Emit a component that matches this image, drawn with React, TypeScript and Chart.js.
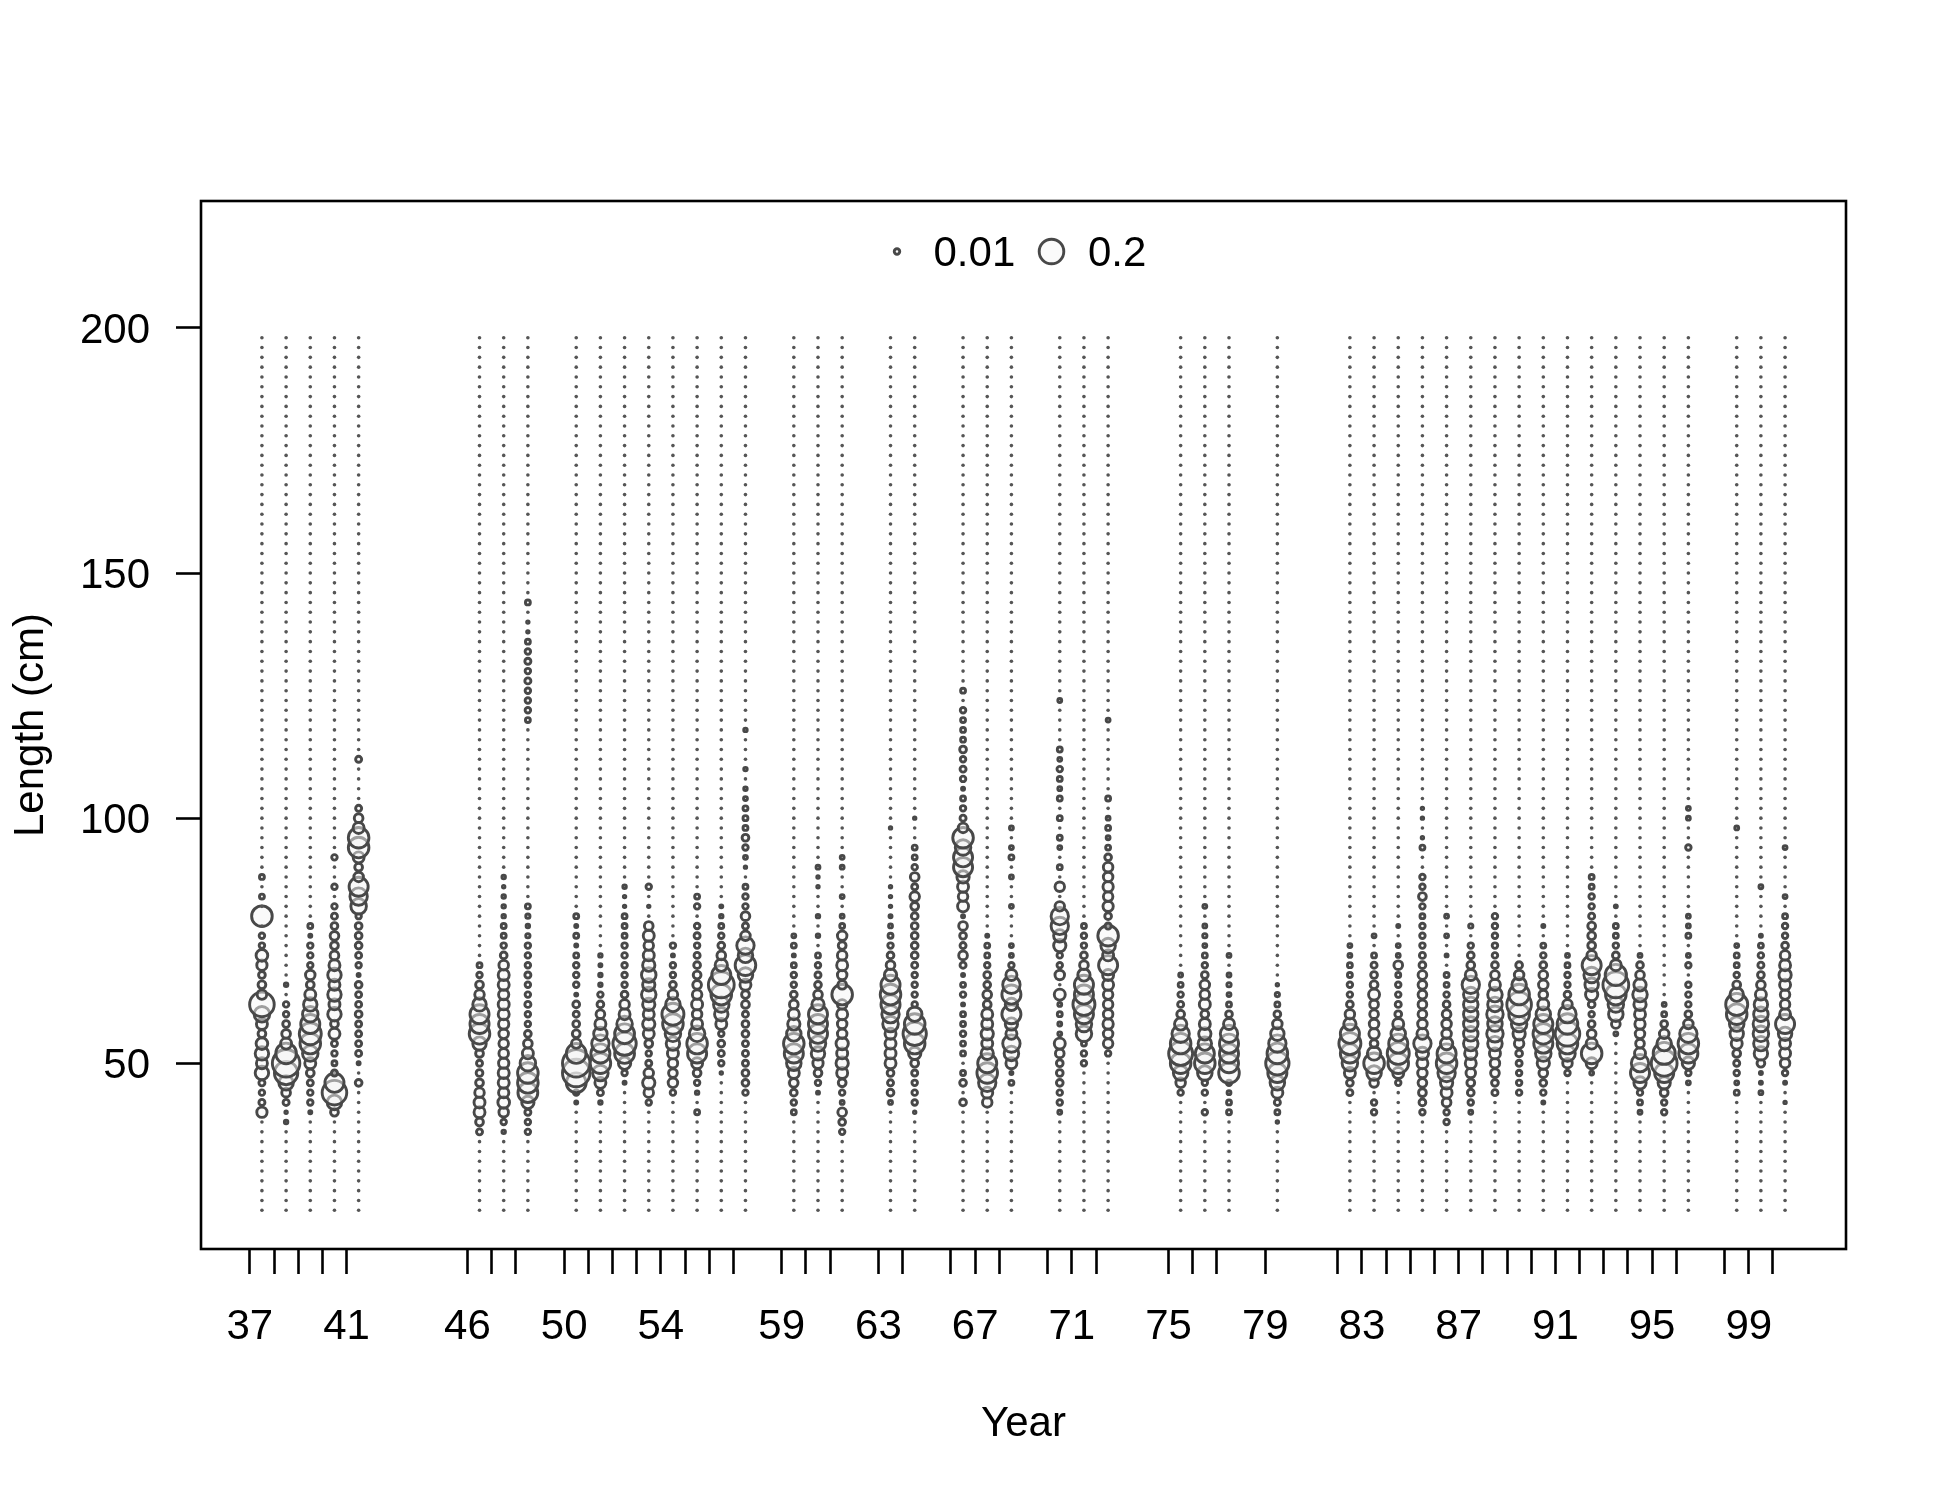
import { useEffect, useRef } from 'react';
import { Chart, registerables } from 'chart.js';

Chart.register(...registerables);

const FONT = '"Liberation Sans", Arial, Helvetica, sans-serif';

// Sample years (plotted at year + seasonOffset, ticks at the year itself)
const years = [37, 38, 39, 40, 41, 46, 47, 48, 50, 51, 52, 53, 54, 55, 56, 57, 59, 60, 61, 63, 64, 66, 67, 68, 70, 71, 72, 75, 76, 77, 79, 82, 83, 84, 85, 86, 87, 88, 89, 90, 91, 92, 93, 94, 95, 96, 98, 99, 100];
const seasonOffset = 0.5;
const labelYears = [37, 41, 46, 50, 54, 59, 63, 67, 71, 75, 79, 83, 87, 91, 95, 99];
const yTicks = [50, 100, 150, 200];

// Length bins (cm)
const lengthBins = [20, 22, 24, 26, 28, 30, 32, 34, 36, 38, 40, 42, 44, 46, 48, 50, 52, 54, 56, 58, 60, 62, 64, 66, 68, 70, 72, 74, 76, 78, 80, 82, 84, 86, 88, 90, 92, 94, 96, 98, 100, 102, 104, 106, 108, 110, 112, 114, 116, 118, 120, 122, 124, 126, 128, 130, 132, 134, 136, 138, 140, 142, 144, 146, 148, 150, 152, 154, 156, 158, 160, 162, 164, 166, 168, 170, 172, 174, 176, 178, 180, 182, 184, 186, 188, 190, 192, 194, 196, 198];

// Proportions at length, starting at compStart[i], step 2 cm
const compStart = [40, 38, 40, 40, 46, 36, 36, 36, 42, 42, 46, 42, 44, 40, 48, 44, 40, 44, 36, 42, 40, 42, 42, 46, 40, 50, 52, 44, 40, 40, 38, 44, 40, 46, 40, 38, 40, 44, 44, 42, 48, 48, 56, 40, 40, 46, 44, 44, 42];

const c37 = [0.035, 0.012, 0.01, 0.012, 0.06, 0.04, 0.06, 0.045, 0.02, 0.04, 0.08, 0.2, 0.03, 0.02, 0.015, 0.035, 0.045, 0.01, 0.01, 0, 0.14, 0, 0.008, 0, 0.008];
const c38 = [0.004, 0.002, 0.012, 0.025, 0.07, 0.18, 0.25, 0.14, 0.04, 0.025, 0.015, 0.01, 0.01, 0, 0.004];
const c39 = [0.003, 0.01, 0.01, 0.012, 0.02, 0.04, 0.08, 0.14, 0.16, 0.12, 0.08, 0.06, 0.04, 0.02, 0.03, 0.01, 0.01, 0.01, 0.003, 0.008];
const c40 = [0.02, 0.07, 0.2, 0.12, 0.012, 0.008, 0.01, 0.012, 0.04, 0.02, 0.06, 0.04, 0.06, 0.04, 0.06, 0.04, 0.025, 0.02, 0.025, 0.015, 0.012, 0.01, 0, 0.01, 0, 0, 0.01];
const c41 = [0.015, 0, 0.003, 0.012, 0.012, 0.012, 0.012, 0.015, 0.012, 0.012, 0.015, 0.003, 0.01, 0.012, 0.015, 0.015, 0.015, 0.01, 0.08, 0.1, 0.12, 0.03, 0.02, 0.04, 0.14, 0.14, 0.04, 0.025, 0.012, 0, 0, 0, 0, 0.012];
const c46 = [0.012, 0.02, 0.04, 0.04, 0.03, 0.02, 0.015, 0.012, 0.02, 0.06, 0.14, 0.12, 0.12, 0.06, 0.03, 0.02, 0.01, 0.008];
const c47 = [0.004, 0.01, 0.03, 0.045, 0.035, 0.04, 0.04, 0.035, 0.03, 0.03, 0.03, 0.035, 0.04, 0.04, 0.035, 0.04, 0.04, 0.03, 0.015, 0.01, 0.008, 0.008, 0.004, 0.004, 0.004, 0.002, 0.004];
const c48 = [0.01, 0.01, 0.012, 0.05, 0.13, 0.14, 0.14, 0.08, 0.04, 0.025, 0.015, 0.01, 0.01, 0.012, 0.01, 0.01, 0.012, 0.01, 0.01, 0.01, 0.006, 0.004, 0.006, 0.008, 0, 0, 0, 0, 0, 0, 0, 0, 0, 0, 0, 0, 0, 0, 0, 0, 0, 0, 0.008, 0.01, 0.01, 0.01, 0.012, 0.01, 0.012, 0.01, 0.008, 0.002, 0.002, 0, 0.008];
const c50 = [0.003, 0.01, 0.13, 0.25, 0.25, 0.13, 0.03, 0.02, 0.015, 0.012, 0.015, 0.003, 0.01, 0.01, 0.01, 0.008, 0.003, 0.008, 0.003, 0.008];
const c51 = [0.004, 0.012, 0.04, 0.08, 0.14, 0.12, 0.1, 0.06, 0.04, 0.025, 0.015, 0.01, 0.004, 0.004, 0.003, 0.004];
const c52 = [0.003, 0.01, 0.05, 0.13, 0.18, 0.13, 0.08, 0.04, 0.03, 0.015, 0.01, 0.01, 0.01, 0.01, 0.01, 0.008, 0.008, 0.008, 0.002, 0.002, 0.004];
const c53 = [0.01, 0.03, 0.05, 0.03, 0.012, 0.01, 0.02, 0.04, 0.05, 0.04, 0.05, 0.07, 0.05, 0.07, 0.05, 0.04, 0.03, 0.04, 0.025, 0, 0.002, 0, 0.01];
const c54 = [0.01, 0.03, 0.025, 0.03, 0.04, 0.06, 0.08, 0.14, 0.16, 0.07, 0.03, 0.015, 0.01, 0.01, 0.003, 0.01];
const c55 = [0.008, 0, 0.004, 0.01, 0.02, 0.04, 0.12, 0.14, 0.08, 0.04, 0.03, 0.04, 0.03, 0.025, 0.02, 0.015, 0.012, 0.01, 0.012, 0.01, 0, 0.01, 0.008];
const c56 = [0.002, 0.01, 0.012, 0.015, 0.01, 0.04, 0.06, 0.08, 0.14, 0.22, 0.12, 0.05, 0.025, 0.015, 0.01, 0.008, 0.004, 0.003];
const c57 = [0.01, 0.015, 0.015, 0.012, 0.012, 0.012, 0.015, 0.015, 0.012, 0.02, 0.02, 0.04, 0.07, 0.14, 0.07, 0.1, 0.03, 0.012, 0.025, 0.01, 0.01, 0.008, 0, 0.002, 0.005, 0.01, 0.015, 0.008, 0.008, 0.008, 0.005, 0.004, 0, 0.004, 0, 0, 0, 0.004];
const c59 = [0.008, 0.01, 0.015, 0.025, 0.04, 0.07, 0.12, 0.14, 0.07, 0.05, 0.04, 0.025, 0.015, 0.01, 0.01, 0.008, 0.003, 0.008, 0.005];
const c60 = [0.003, 0.01, 0.02, 0.035, 0.06, 0.08, 0.12, 0.12, 0.12, 0.05, 0.025, 0.015, 0.012, 0.01, 0.008, 0, 0.004, 0, 0.004, 0, 0, 0.002, 0.002, 0.005];
const c61 = [0.01, 0.015, 0.025, 0.005, 0.01, 0.02, 0.04, 0.05, 0.04, 0.05, 0.03, 0.03, 0.04, 0.03, 0.14, 0.025, 0.03, 0.04, 0.03, 0.02, 0.03, 0.008, 0.005, 0, 0.005, 0, 0, 0.005, 0.005];
const c63 = [0.005, 0.015, 0.012, 0.015, 0.04, 0.04, 0.04, 0.04, 0.08, 0.1, 0.12, 0.14, 0.12, 0.05, 0.025, 0.015, 0.01, 0.008, 0.005, 0.003, 0.002, 0.002, 0.002, 0, 0, 0, 0, 0, 0.002];
const c64 = [0.002, 0.01, 0.01, 0.01, 0.012, 0.02, 0.05, 0.14, 0.18, 0.14, 0.07, 0.01, 0.01, 0.01, 0.01, 0.012, 0.015, 0.015, 0.015, 0.015, 0.015, 0.02, 0.03, 0.012, 0.025, 0.01, 0.008, 0.008, 0, 0, 0.002];
const c66 = [0.015, 0, 0.015, 0.008, 0, 0.008, 0.008, 0.01, 0.008, 0.008, 0.003, 0.01, 0.008, 0.003, 0.012, 0.025, 0.012, 0.015, 0.025, 0.003, 0.04, 0.03, 0.04, 0.05, 0.12, 0.12, 0.08, 0.14, 0.03, 0.012, 0.01, 0.008, 0.003, 0.01, 0.012, 0.01, 0.015, 0.008, 0.008, 0.008, 0.01, 0, 0.008];
const c67 = [0.03, 0.04, 0.1, 0.14, 0.12, 0.05, 0.04, 0.05, 0.04, 0.04, 0.02, 0.025, 0.015, 0.015, 0.01, 0.008, 0.008, 0.003];
const c68 = [0.008, 0.003, 0.04, 0.07, 0.1, 0.04, 0.05, 0.12, 0.05, 0.12, 0.1, 0.04, 0.01, 0.005, 0.005, 0, 0, 0, 0.005, 0, 0, 0.005, 0, 0.008, 0.005, 0, 0.005];
const c70 = [0.005, 0.01, 0.01, 0.015, 0.015, 0.015, 0.025, 0.04, 0.005, 0.005, 0.008, 0.005, 0.04, 0, 0.03, 0.01, 0.01, 0.05, 0.05, 0.1, 0.1, 0.03, 0, 0.03, 0, 0.008, 0, 0.005, 0.008, 0, 0.008, 0, 0.008, 0.005, 0.008, 0.01, 0.005, 0.008, 0, 0, 0, 0, 0.005];
const c71 = [0.01, 0.01, 0.008, 0.08, 0.08, 0.12, 0.16, 0.12, 0.12, 0.05, 0.025, 0.015, 0.01, 0.01, 0.008];
const c72 = [0.01, 0.03, 0.03, 0.035, 0.03, 0.03, 0.03, 0.04, 0.04, 0.12, 0.04, 0.07, 0.14, 0.012, 0.015, 0.035, 0.03, 0.035, 0.03, 0.03, 0.015, 0.008, 0.005, 0.008, 0.005, 0, 0.008, 0, 0, 0, 0, 0, 0, 0, 0.005];
const c75 = [0.01, 0.03, 0.07, 0.14, 0.19, 0.14, 0.1, 0.05, 0.02, 0.012, 0.01, 0.008, 0.005];
const c76 = [0.01, 0, 0.01, 0.01, 0.07, 0.14, 0.12, 0.06, 0.05, 0.04, 0.02, 0.04, 0.03, 0.03, 0.015, 0.01, 0.008, 0.005, 0.006, 0.005, 0, 0.005];
const c77 = [0.008, 0.008, 0.005, 0.01, 0.14, 0.12, 0.12, 0.12, 0.1, 0.04, 0.015, 0.008, 0.005, 0.006, 0.005, 0, 0.005];
const c79 = [0.002, 0.008, 0.012, 0.04, 0.07, 0.12, 0.18, 0.14, 0.1, 0.06, 0.03, 0.015, 0.008, 0.006, 0.002];
const c82 = [0.012, 0.015, 0.04, 0.08, 0.12, 0.16, 0.12, 0.05, 0.03, 0.015, 0.01, 0.01, 0.008, 0.008, 0.005, 0.005];
const c83 = [0.01, 0.01, 0, 0.025, 0.07, 0.14, 0.06, 0.02, 0.035, 0.03, 0.025, 0.025, 0.04, 0.02, 0.015, 0.012, 0.008, 0, 0.005];
const c84 = [0.01, 0.04, 0.14, 0.16, 0.12, 0.07, 0.04, 0.015, 0.012, 0.01, 0.01, 0.008, 0.025, 0.005, 0.005, 0, 0.003];
const c85 = [0.01, 0.015, 0.02, 0.025, 0.03, 0.04, 0.05, 0.1, 0.04, 0.03, 0.025, 0.025, 0.025, 0.025, 0.025, 0.015, 0.012, 0.01, 0.01, 0.01, 0.008, 0.01, 0.02, 0.01, 0.01, 0, 0, 0.008, 0.002, 0, 0.002, 0.002];
const c86 = [0.01, 0.01, 0.025, 0.04, 0.05, 0.1, 0.14, 0.12, 0.05, 0.03, 0.03, 0.025, 0.015, 0.01, 0.008, 0.008, 0, 0.003, 0, 0.005, 0, 0.005];
const c87 = [0.005, 0.01, 0.015, 0.02, 0.03, 0.04, 0.05, 0.07, 0.07, 0.07, 0.07, 0.07, 0.07, 0.1, 0.04, 0.02, 0.015, 0.01, 0, 0.006];
const c88 = [0.012, 0.015, 0.025, 0.03, 0.04, 0.07, 0.09, 0.07, 0.09, 0.07, 0.07, 0.04, 0.025, 0.015, 0.01, 0.01, 0.01, 0.01, 0.01];
const c89 = [0.01, 0.01, 0.01, 0.012, 0.015, 0.03, 0.05, 0.08, 0.14, 0.2, 0.14, 0.07, 0.03, 0.015];
const c90 = [0.003, 0.01, 0.015, 0.025, 0.05, 0.08, 0.12, 0.14, 0.12, 0.07, 0.04, 0.025, 0.03, 0.025, 0.015, 0.01, 0.008, 0, 0.003];
const c91 = [0.01, 0.03, 0.08, 0.14, 0.2, 0.14, 0.1, 0.03, 0.015, 0.01, 0.01, 0.008, 0.005];
const c92 = [0.005, 0.04, 0.14, 0.04, 0.025, 0.015, 0.01, 0.015, 0.05, 0.06, 0.08, 0.12, 0.03, 0.02, 0.02, 0.02, 0.012, 0.01, 0.01, 0.008, 0.008];
const c93 = [0.005, 0.025, 0.07, 0.08, 0.14, 0.22, 0.15, 0.04, 0.015, 0.01, 0.008, 0.008, 0, 0.003];
const c94 = [0.005, 0.008, 0.01, 0.05, 0.12, 0.1, 0.04, 0.025, 0.03, 0.035, 0.04, 0.05, 0.07, 0.05, 0.025, 0.015, 0.005];
const c95 = [0.01, 0.01, 0.02, 0.05, 0.12, 0.22, 0.16, 0.07, 0.03, 0.015, 0.008, 0.005];
const c96 = [0.005, 0.01, 0.05, 0.12, 0.14, 0.1, 0.03, 0.015, 0.01, 0.01, 0.01, 0, 0.01, 0.005, 0, 0.008, 0.005, 0.005, 0, 0, 0, 0, 0, 0, 0.01, 0, 0, 0.005, 0.005];
const c98 = [0.008, 0.005, 0.01, 0.012, 0.02, 0.04, 0.06, 0.07, 0.14, 0.16, 0.06, 0.02, 0.01, 0.008, 0.008, 0.005, 0, 0, 0, 0, 0, 0, 0, 0, 0, 0, 0, 0.005];
const c99 = [0.005, 0.003, 0.003, 0.02, 0.06, 0.07, 0.08, 0.08, 0.07, 0.06, 0.04, 0.025, 0.015, 0.012, 0.01, 0.008, 0.003, 0, 0, 0, 0, 0.005];
const c100 = [0.002, 0, 0.003, 0.01, 0.03, 0.04, 0.04, 0.06, 0.12, 0.04, 0.03, 0.03, 0.04, 0.05, 0.04, 0.03, 0.015, 0.01, 0.01, 0.008, 0, 0.005, 0, 0, 0, 0, 0.005];

const comps = [c37, c38, c39, c40, c41, c46, c47, c48, c50, c51, c52, c53, c54, c55, c56, c57, c59, c60, c61, c63, c64, c66, c67, c68, c70, c71, c72, c75, c76, c77, c79, c82, c83, c84, c85, c86, c87, c88, c89, c90, c91, c92, c93, c94, c95, c96, c98, c99, c100];

const legendValues = [0.01, 0.2];
const legendLabels = ['0.01', '0.2'];

const STROKE = '#484848';
const FILL = 'rgba(246,246,246,0.5)';
const LINE_W = 2.9;
const radiusFor = (v: number) => 27.5 * Math.sqrt(v);
const FONT_SIZE = 42;

const framePlugin = {
  id: 'frameAndBubbleLegend',
  afterDraw(chart: any) {
    const { ctx, chartArea: a } = chart;
    ctx.save();
    ctx.strokeStyle = '#000';
    ctx.lineWidth = 2.6;
    ctx.strokeRect(a.left, a.top, a.right - a.left, a.bottom - a.top);

    const cx = (a.left + a.right) / 2;
    const cy = a.top + 50.5;
    const circleX = [cx - 126.5, cx + 28];
    const textX = [cx - 90, cx + 64.5];
    ctx.font = `${FONT_SIZE}px ${FONT}`;
    ctx.textBaseline = 'middle';
    ctx.textAlign = 'left';
    legendValues.forEach((v, i) => {
      ctx.beginPath();
      ctx.arc(circleX[i], cy, radiusFor(v), 0, Math.PI * 2);
      ctx.fillStyle = FILL;
      ctx.fill();
      ctx.lineWidth = LINE_W;
      ctx.strokeStyle = STROKE;
      ctx.stroke();
      ctx.fillStyle = '#000';
      ctx.fillText(legendLabels[i], textX[i], cy + 3);
    });
    ctx.restore();
  },
};

export default function App() {
  const ref = useRef<HTMLCanvasElement>(null);

  useEffect(() => {
    if (!ref.current) return;
    const zeroPts: { x: number; y: number }[] = [];
    const posPts: { x: number; y: number; v: number }[] = [];
    years.forEach((yr, i) => {
      const comp = comps[i];
      const start = compStart[i];
      lengthBins.forEach((L) => {
        const k = (L - start) / 2;
        const v = k >= 0 && k < comp.length ? comp[k] : 0;
        if (v > 0) posPts.push({ x: yr + seasonOffset, y: L, v });
        else zeroPts.push({ x: yr + seasonOffset, y: L });
      });
    });

    const tickGrid = {
      display: true,
      drawOnChartArea: false,
      drawTicks: true,
      tickLength: 25,
      tickWidth: 2.6,
      tickColor: '#000',
      color: '#000',
    };

    const chart = new Chart(ref.current, {
      type: 'scatter',
      data: {
        datasets: [
          {
            label: 'zero',
            data: zeroPts,
            pointRadius: 1.8,
            pointBackgroundColor: '#555555',
            pointBorderWidth: 0,
            pointHoverRadius: 1.8,
          },
          {
            label: 'proportion',
            data: posPts,
            pointRadius: (c: any) => radiusFor(c.raw ? c.raw.v : 0),
            pointHoverRadius: (c: any) => radiusFor(c.raw ? c.raw.v : 0),
            pointBackgroundColor: FILL,
            pointBorderColor: STROKE,
            pointBorderWidth: LINE_W,
          },
        ],
      },
      options: {
        animation: false,
        responsive: false,
        events: [],
        layout: { padding: { left: 0, top: 201, right: 104, bottom: 0 } },
        plugins: { legend: { display: false }, tooltip: { enabled: false } },
        scales: {
          x: {
            type: 'linear',
            min: 34.98,
            max: 103.02,
            afterBuildTicks: (scale: any) => {
              scale.ticks = years.map((v) => ({ value: v }));
            },
            afterFit: (scale: any) => {
              scale.height = 251;
            },
            grid: tickGrid,
            border: { display: false },
            ticks: {
              autoSkip: false,
              maxRotation: 0,
              minRotation: 0,
              padding: 28,
              color: '#000',
              font: { family: FONT, size: FONT_SIZE },
              callback: (v: any) => (labelYears.includes(v) ? String(v) : ''),
            },
            title: {
              display: true,
              text: 'Year',
              color: '#000',
              font: { family: FONT, size: FONT_SIZE },
              padding: { top: 0, bottom: 50 },
            },
          },
          y: {
            type: 'linear',
            min: 12.1,
            max: 225.9,
            afterBuildTicks: (scale: any) => {
              scale.ticks = yTicks.map((v) => ({ value: v }));
            },
            afterFit: (scale: any) => {
              scale.width = 201;
            },
            grid: tickGrid,
            border: { display: false },
            ticks: {
              padding: 26,
              labelOffset: 3,
              color: '#000',
              font: { family: FONT, size: FONT_SIZE },
              callback: (v: any) => String(v),
            },
            title: {
              display: true,
              text: 'Length (cm)',
              color: '#000',
              font: { family: FONT, size: FONT_SIZE },
              padding: { top: 6, bottom: 0 },
            },
          },
        },
      },
      plugins: [framePlugin],
    });
    return () => chart.destroy();
  }, []);

  return (
    <div style={{ position: 'absolute', left: 0, top: 0, width: 1950, height: 1500, background: '#fff' }}>
      <canvas ref={ref} width={1950} height={1500} style={{ width: 1950, height: 1500, display: 'block' }} />
    </div>
  );
}
